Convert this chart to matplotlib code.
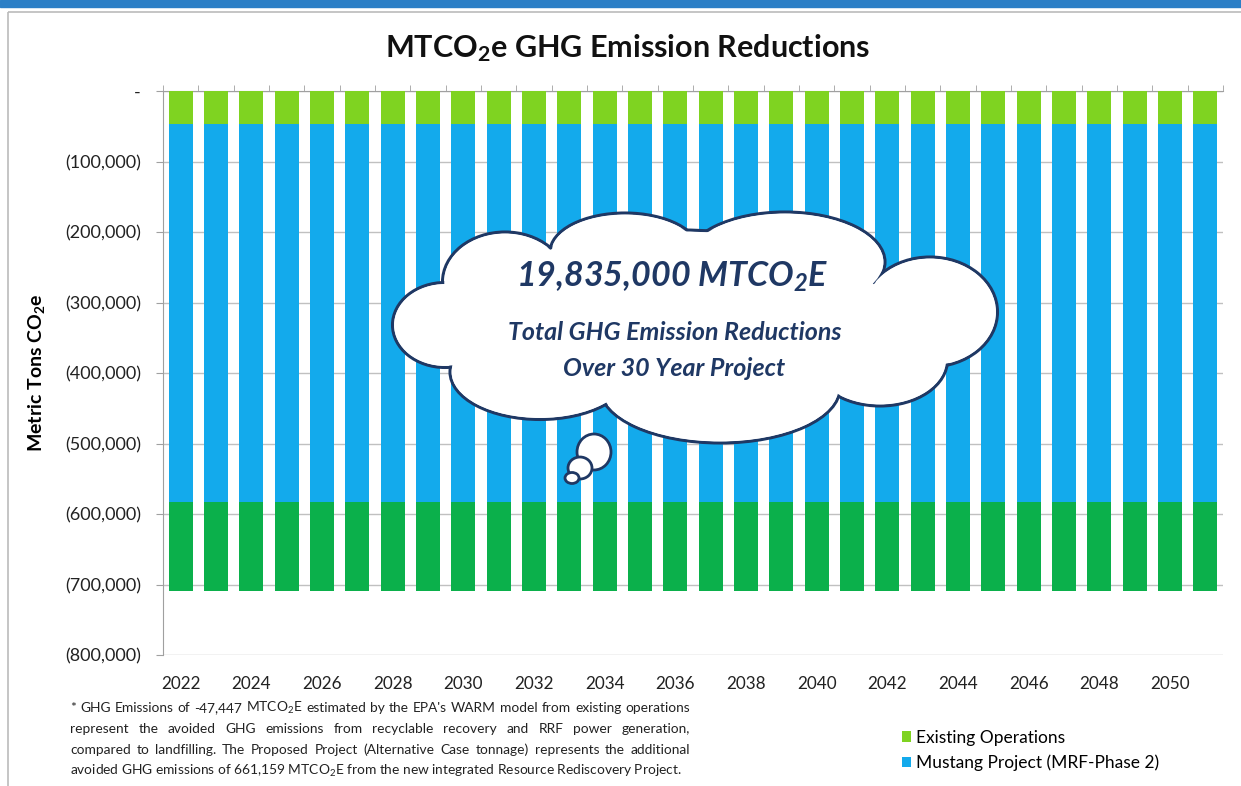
import matplotlib
matplotlib.use("Agg")
import matplotlib.pyplot as plt
from matplotlib.patches import Ellipse, Rectangle
from matplotlib.ticker import FuncFormatter, MultipleLocator
import numpy as np

years = list(range(2022, 2052))
existing_ops = [-47447] * 30
mustang_mrf = [-535559] * 30
mustang_other = [-125600] * 30
series_names = ["Existing Operations", "Mustang Project (MRF-Phase 2)", "Mustang Project (other)"]
colors = ["#7FD321", "#13AAEC", "#0BB04B"]

FONT = ["Lato", "DejaVu Sans"]
plt.rcParams["font.family"] = FONT
plt.rcParams["mathtext.fontset"] = "custom"
plt.rcParams["mathtext.rm"] = "Lato"
plt.rcParams["mathtext.it"] = "Lato:italic"
plt.rcParams["mathtext.bf"] = "Lato:bold"
try:
    plt.rcParams["mathtext.bfit"] = "Lato:italic:bold"
    BFIT = True
except Exception:
    BFIT = False

fig = plt.figure(figsize=(12.41, 7.86), dpi=100)
fig.patch.set_facecolor("white")

ax = fig.add_axes([163/1241, 1-655/786, (1223-163)/1241, (655-91)/786])
x = np.arange(len(years))
w = 0.68
b1 = ax.bar(x, existing_ops, w, color=colors[0], label=series_names[0], zorder=3)
b2 = ax.bar(x, mustang_mrf, w, bottom=existing_ops, color=colors[1], label=series_names[1], zorder=3)
bottom3 = np.array(existing_ops) + np.array(mustang_mrf)
b3 = ax.bar(x, mustang_other, w, bottom=bottom3, color=colors[2], zorder=3)

ax.set_xlim(-0.5, len(years) - 0.5)
ax.set_ylim(-800000, 0)
ax.yaxis.set_major_locator(MultipleLocator(100000))
def fmt(v, pos):
    if abs(v) < 1:
        return "-"
    return "({:,.0f})".format(abs(v)) if v < 0 else "{:,.0f}".format(v)
ax.yaxis.set_major_formatter(FuncFormatter(fmt))
ax.grid(axis="y", color="#C0C0C0", linewidth=1, zorder=0)
ax.set_axisbelow(True)
for s in ["right", "bottom"]:
    ax.spines[s].set_visible(False)
ax.spines["left"].set_color("#A0A0A0")
ax.spines["top"].set_color("#A0A0A0")

ax.set_xticks(x[::2])
ax.set_xticklabels([str(y) for y in years[::2]])
ax.set_xticks(np.arange(len(years) + 1) - 0.5, minor=True)
ax.tick_params(axis="x", which="major", length=0, pad=15, labelsize=12.3, colors="#222222")
ax.tick_params(axis="x", which="minor", top=True, bottom=False, direction="out", length=4, color="#A0A0A0")
ax.tick_params(axis="y", length=5, color="#A0A0A0", labelsize=13, pad=11, colors="#222222")
ax.set_ylabel("Metric Tons CO$_\\mathbf{2}$e", fontsize=14, fontweight="bold")
ax.yaxis.set_label_coords((47 - 163) / 1060, 0.5)

fig.text(628/1241, 1-48/786, "MTCO$_\\mathbf{2}$e GHG Emission Reductions", ha="center", va="center",
         fontsize=22, fontweight="bold", color="#111111")

# overlay in pixel coordinates
ov = fig.add_axes([0, 0, 1, 1], zorder=10)
ov.set_xlim(0, 1241)
ov.set_ylim(786, 0)
ov.axis("off")
ov.patch.set_alpha(0)

ov.add_patch(Rectangle((0, 0), 1241, 7, color="#2C7FC6", zorder=1))
ov.add_patch(Rectangle((8, 12), 1240, 790, fill=False, edgecolor="#BBBBBB", lw=1.2, zorder=1))

edge = "#1F3864"
lobes = [
    (505, 282, 125, 100),
    (625, 252, 150, 78),
    (785, 262, 200, 100),
    (930, 312, 135, 110),
    (445, 325, 105, 85),
    (880, 360, 135, 92),
    (720, 388, 240, 110),
    (540, 372, 180, 95),
    (680, 315, 420, 170),
]
for (cx, cy, ew, eh) in lobes:
    ov.add_patch(Ellipse((cx, cy), ew, eh, facecolor="white", edgecolor=edge, lw=2.2, zorder=5))
for (cx, cy, ew, eh) in lobes:
    ov.add_patch(Ellipse((cx, cy), ew - 3.5, eh - 3.5, facecolor="white", edgecolor="none", zorder=6))
bubbles = [(594, 452, 34, 36), (580, 468, 24, 22), (572, 478, 14, 11)]
for (cx, cy, ew, eh) in bubbles:
    ov.add_patch(Ellipse((cx, cy), ew, eh, facecolor="white", edgecolor=edge, lw=2, zorder=7))

sub2 = "$_\\mathbfit{2}$" if BFIT else "$_\\mathbf{2}$"
ov.text(672, 277, "19,835,000 MTCO" + sub2 + "E", ha="center", va="center", fontsize=24.5,
        fontweight="bold", fontstyle="italic", color=edge, zorder=8)
ov.text(675, 332, "Total GHG Emission Reductions", ha="center", va="center", fontsize=18,
        fontweight="bold", fontstyle="italic", color=edge, zorder=8)
ov.text(674, 369, "Over 30 Year Project", ha="center", va="center", fontsize=18,
        fontweight="bold", fontstyle="italic", color=edge, zorder=8)

notes = [
    "* GHG Emissions of -47,447 MTCO$_2$E estimated by the EPA's WARM model from existing operations",
    "represent the avoided GHG emissions from recyclable recovery and RRF power generation,",
    "compared to landfilling. The Proposed Project (Alternative Case tonnage) represents the additional",
    "avoided GHG emissions of 661,159 MTCO$_2$E from the new integrated Resource Rediscovery Project.",
]
renderer = fig.canvas.get_renderer()
x0, x1 = 70, 690
for i, line in enumerate(notes):
    yy = 708 + i * 21
    if i == len(notes) - 1:
        ov.text(x0, yy, line, ha="left", va="center", fontsize=9.9, color="#222222", zorder=8)
        continue
    words = line.split(" ")
    objs = [ov.text(0, yy, wd, ha="left", va="center", fontsize=9.9, color="#222222", zorder=8) for wd in words]
    widths = [o.get_window_extent(renderer=renderer).width for o in objs]
    gap = (x1 - x0 - sum(widths)) / (len(words) - 1)
    cur = x0
    for o, wd in zip(objs, widths):
        o.set_x(cur)
        cur += wd + gap

ax.legend(handles=[b1, b2], labels=series_names[:2], loc="upper left",
          bbox_to_anchor=(893/1241, 1-721/786), bbox_transform=fig.transFigure,
          frameon=False, fontsize=12.5, handlelength=0.55, handleheight=0.55,
          handletextpad=0.3, labelspacing=0.5, borderpad=0)

fig.savefig("out.png", dpi=100, facecolor="white")
